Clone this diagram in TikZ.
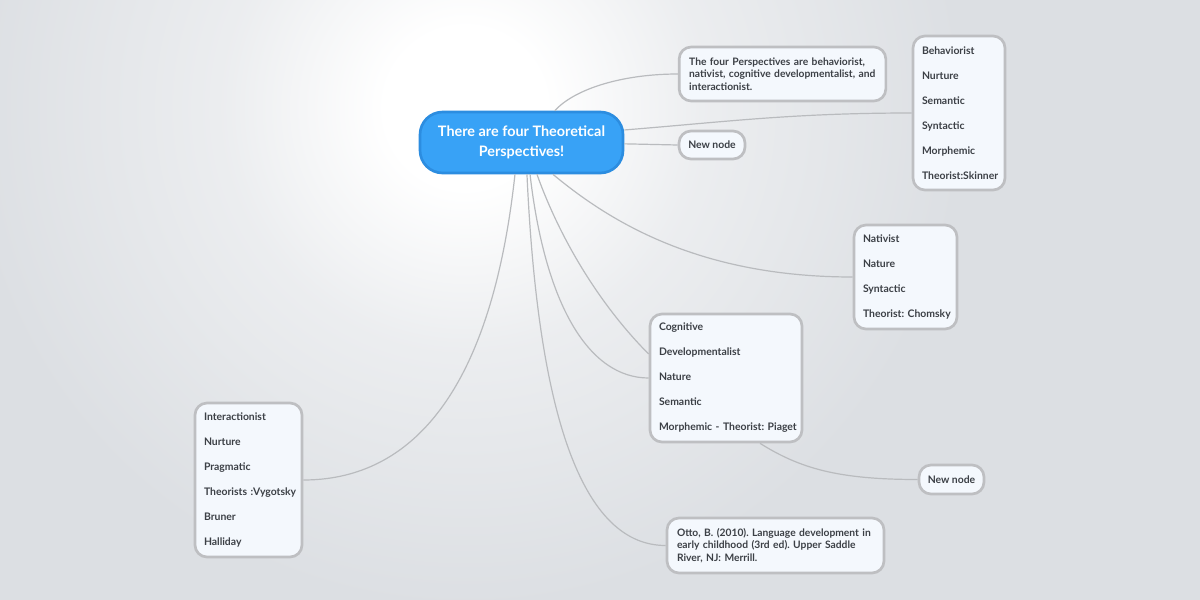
\documentclass[tikz,border=0pt]{standalone}
\usepackage{fontspec}
\setmainfont{Lato}
\frenchspacing
\definecolor{bg}{HTML}{DCDFE3}
\definecolor{leaffill}{HTML}{F4F8FD}
\definecolor{edge}{HTML}{BEBFC2}
\definecolor{wire}{HTML}{B9BBBE}
\definecolor{ink}{HTML}{3C4046}
\definecolor{rootfill}{HTML}{38A2F6}
\definecolor{rootedge}{HTML}{2C8DE0}
\colorlet{haze}{bg!55!white}
\pgfdeclareradialshading{glow}{\pgfpoint{0bp}{0bp}}{color(0bp)=(white); color(2bp)=(white); color(6bp)=(haze); color(12.5bp)=(bg); color(50bp)=(bg)}
\begin{document}
\begin{tikzpicture}[x=0.75pt,y=0.75pt]
			\tikzstyle{leaf}=[draw=edge, line width=2pt, fill=leaffill, rounded corners=9pt, text=ink, font=\bfseries\fontsize{7.8}{18.75}\selectfont, align=left, inner xsep=6.75pt, inner ysep=0pt, execute at begin node={\hyphenpenalty=10000\exhyphenpenalty=10000}]
			\tikzstyle{note}=[leaf, font=\bfseries\fontsize{7.7}{9.4}\selectfont, inner xsep=7.5pt]
			\tikzstyle{small}=[leaf, align=center, inner xsep=0pt]
			\tikzstyle{link}=[draw=wire, line width=0.9pt]
			\useasboundingbox (0,0) rectangle (1200,-600);
			\begin{scope}
			\clip (0,0) rectangle (1200,-600);
			\shade [shading=glow] (465,-108) circle (1000);
			\end{scope}
			\node [draw=rootedge, line width=2pt, fill=rootfill, rounded corners=17pt, text=white, font=\bfseries\fontsize{10.8}{15}\selectfont, align=center, minimum width=152.25pt, minimum height=45.75pt, inner sep=0pt] (root) at (521.5,-142.5) {There are four Theoretical\\Perspectives!};
			\node [note, text width=140pt, minimum height=40.5pt] (persp) at (782.5,-74) {\mbox{The four Perspectives are behaviorist,}\\\mbox{nativist, cognitive developmentalist, and}\\interactionist.};
			\node [small, minimum width=49.5pt, minimum height=21pt] (newa) at (712,-145) {New node};
			\node [leaf, text width=55.5pt, minimum height=115.5pt] (behav) at (959,-113) {Behaviorist\\Nurture\\Semantic\\Syntactic\\Morphemic\\Theorist:Skinner};
			\node [leaf, text width=63.75pt, minimum height=78pt] (nativ) at (905.5,-277) {Nativist\\Nature\\Syntactic\\Theorist:~Chomsky};
			\node [leaf, text width=100.5pt, minimum height=96pt] (cogn) at (726,-378) {Cognitive\\Developmentalist\\Nature\\Semantic\\Morphemic~-~Theorist:~Piaget};
			\node [small, minimum width=48.75pt, minimum height=21.75pt] (newb) at (951.5,-479.5) {New node};
			\node [note, text width=147.75pt, minimum height=41.25pt] (otto) at (775.5,-545.5) {\mbox{Otto, B. (2010). Language development in}\\\mbox{early childhood (3rd ed). Upper Saddle}\\River, NJ: Merrill.};
			\node [leaf, text width=66.75pt, minimum height=115.5pt] (inter) at (248.5,-480) {Interactionist\\Nurture\\Pragmatic\\Theorists~:Vygotsky\\Bruner\\Halliday};
			\draw [link] ([xshift=25pt]root.north) .. controls +(20,22) and +(-55,0) .. (persp.west);
			\draw [link] ([yshift=9.4pt]root.east) .. controls +(100,8) and +(-120,0) .. (behav.west);
			\draw [link] ([yshift=-1pt]root.east) -- (newa.west);
			\draw [link] ([xshift=23.6pt]root.south) .. controls +(60,-50) and +(-150,0) .. (nativ.west);
			\draw [link] ([xshift=11.6pt]root.south) .. controls +(25,-70) and +(-45,45) .. ([yshift=18pt]cogn.west);
			\draw [link] ([xshift=6.4pt]root.south) .. controls +(15,-130) and +(-60,0) .. (cogn.west);
			\draw [link] ([xshift=4.1pt]root.south) .. controls +(10,-220) and +(-90,0) .. (otto.west);
			\draw [link] ([xshift=-4.9pt]root.south) .. controls +(-25,-230) and +(100,0) .. (inter.east);
			\draw [link] ([xshift=25.5pt]cogn.south) .. controls +(40,-25) and +(-80,0) .. (newb.west);
\end{tikzpicture}
\end{document}
